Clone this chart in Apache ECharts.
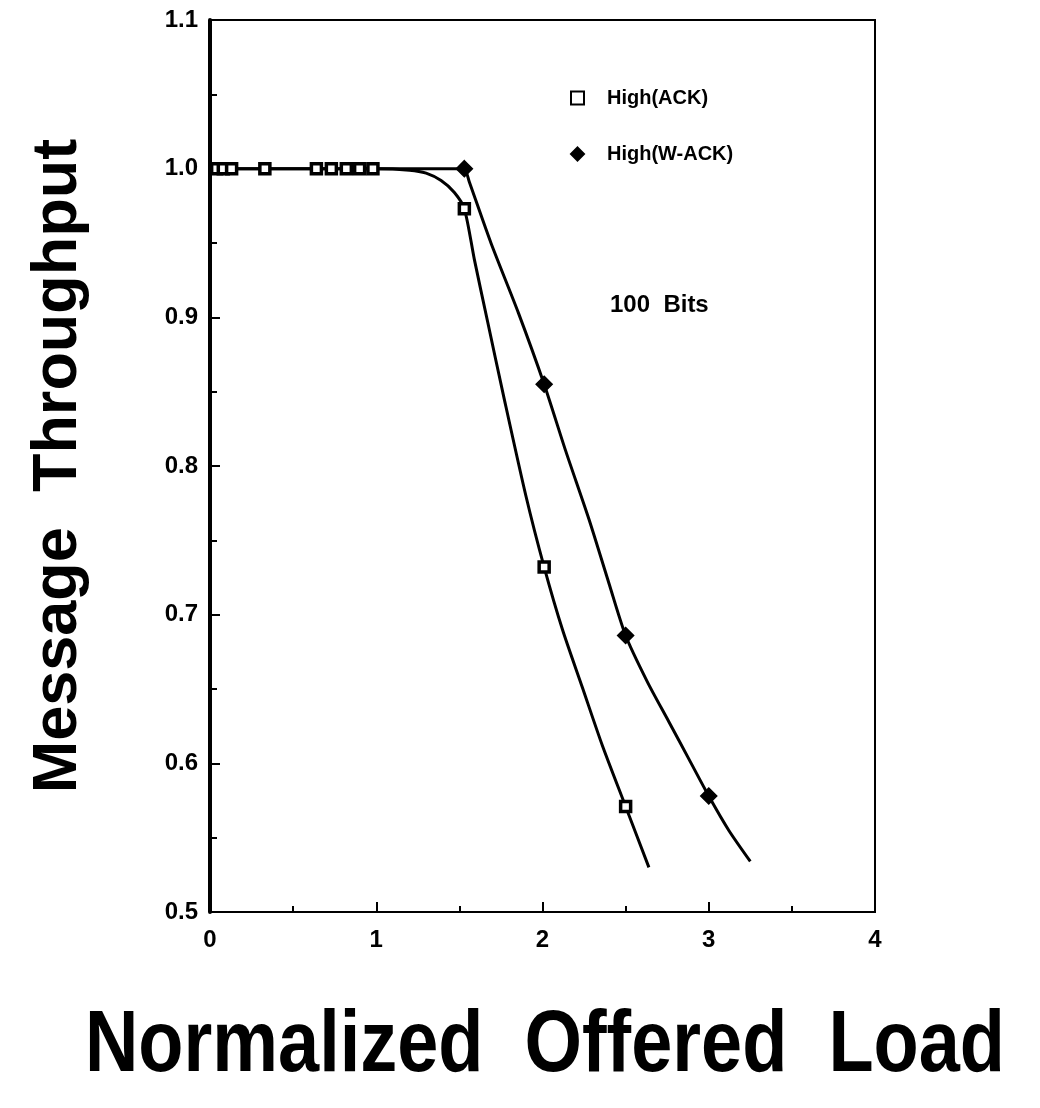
<!DOCTYPE html>
<html>
<head>
<meta charset="utf-8">
<script src="https://cdn.jsdelivr.net/npm/echarts@6/dist/echarts.min.js"></script>
<style>html,body{margin:0;padding:0;background:#fff}#chart{width:1040px;height:1108px}</style>
</head>
<body>
<div id="chart"></div>
<script>
// ---- data ----
const xTicks = [0, 1, 2, 3, 4];
const yTicks = [0.5, 0.6, 0.7, 0.8, 0.9, 1.0, 1.1];

// High(ACK) measured points (hollow squares)
const ackX = [0.04, 0.08, 0.13, 0.33, 0.64, 0.73, 0.82, 0.90, 0.98, 1.53, 2.01, 2.50];
const ackY = [1.0, 1.0, 1.0, 1.0, 1.0, 1.0, 1.0, 1.0, 1.0, 0.973, 0.732, 0.571];
// High(ACK) fitted curve, traced
const ackCurveX = [0.02, 0.5, 1.0, 1.2, 1.3, 1.39, 1.47, 1.53, 1.59, 1.67, 1.77, 1.90, 2.01, 2.12, 2.24, 2.36, 2.50, 2.64];
const ackCurveY = [1.0, 1.0, 1.0, 0.999, 0.997, 0.992, 0.984, 0.973, 0.939, 0.897, 0.845, 0.780, 0.732, 0.690, 0.651, 0.612, 0.571, 0.530];

// High(W-ACK) measured points (filled diamonds)
const wackX = [1.53, 2.01, 2.50, 3.00];
const wackY = [1.0, 0.855, 0.686, 0.578];
// High(W-ACK) fitted curve, traced
const wackCurveX = [0.02, 0.5, 1.0, 1.3, 1.50, 1.53, 1.56, 1.69, 1.855, 2.01, 2.14, 2.28, 2.40, 2.50, 2.63, 2.76, 2.88, 3.00, 3.12, 3.25];
const wackCurveY = [1.0, 1.0, 1.0, 1.0, 1.0, 1.0, 0.991, 0.950, 0.903, 0.855, 0.810, 0.764, 0.721, 0.686, 0.655, 0.628, 0.603, 0.578, 0.555, 0.534];

const seriesNames = ['High(ACK)', 'High(W-ACK)'];
const xTitle = 'Normalized  Offered  Load';
const yTitle = 'Message  Throughput';
const note = '100  Bits';

const zip = (xs, ys) => xs.map((x, i) => [x, ys[i]]);

const chart = echarts.init(document.getElementById('chart'), null, {renderer: 'canvas'});
const tickFont = {fontFamily: 'Liberation Sans, Arial, sans-serif', fontWeight: 'bold', fontSize: 24, color: '#000'};

chart.setOption({
  animation: false,
  backgroundColor: '#fff',
  grid: {left: 210, right: 165, top: 20, bottom: 196, show: true, borderColor: '#000', borderWidth: 2,
         backgroundColor: 'transparent', containLabel: false, outerBoundsMode: 'none'},
  legend: {
    data: seriesNames,
    orient: 'vertical',
    left: 565, top: 83,
    itemWidth: 13, itemHeight: 13, itemGap: 36,
    textStyle: {fontFamily: 'Liberation Sans, Arial, sans-serif', fontWeight: 'bold', fontSize: 20, color: '#000', padding: [0, 0, 0, 18]}
  },
  xAxis: {
    type: 'value', min: xTicks[0], max: xTicks[xTicks.length - 1], interval: 1,
    axisLine: {show: true, onZero: false, lineStyle: {color: '#000', width: 2}},
    axisTick: {show: true, inside: true, length: 10, lineStyle: {color: '#000', width: 2}},
    minorTick: {show: true, splitNumber: 2, length: 6, lineStyle: {color: '#000', width: 2}},
    axisLabel: Object.assign({margin: 16, formatter: v => String(v)}, tickFont),
    splitLine: {show: false}
  },
  yAxis: {
    type: 'value', min: yTicks[0], max: yTicks[yTicks.length - 1], interval: 0.1,
    name: yTitle, nameLocation: 'middle', nameGap: 120,
    nameTextStyle: {fontFamily: 'Liberation Sans, Arial, sans-serif', fontWeight: 'bold', fontSize: 63, color: '#000'},
    axisLine: {show: true, onZero: false, lineStyle: {color: '#000', width: 4}},
    axisTick: {show: true, inside: true, length: 10, lineStyle: {color: '#000', width: 2}},
    minorTick: {show: true, splitNumber: 2, length: 7, lineStyle: {color: '#000', width: 2}},
    axisLabel: Object.assign({margin: 12, formatter: v => v.toFixed(1)}, tickFont),
    splitLine: {show: false}
  },
  graphic: [
    {type: 'text', left: 610, top: 293, z: 10,
     style: {text: note, fill: '#000', font: 'bold 24px "Liberation Sans", Arial, sans-serif'}},
    {type: 'text', x: 545, y: 1047, scaleX: 0.84, z: 10,
     style: {x: 0, y: 0, text: xTitle, fill: '#000', align: 'center', verticalAlign: 'middle',
             font: 'bold 88px "Liberation Sans", Arial, sans-serif'}}
  ],
  series: [
    {name: 'ackCurve', type: 'line', data: zip(ackCurveX, ackCurveY), smooth: 0.25, showSymbol: false, symbol: 'none',
     lineStyle: {color: '#000', width: 3}, z: 2, silent: true},
    {name: 'wackCurve', type: 'line', data: zip(wackCurveX, wackCurveY), smooth: 0.25, showSymbol: false, symbol: 'none',
     lineStyle: {color: '#000', width: 3}, z: 2, silent: true},
    {name: seriesNames[0], type: 'scatter', data: zip(ackX, ackY), symbol: 'rect', symbolSize: 10,
     itemStyle: {color: '#fff', borderColor: '#000', borderWidth: 3.5, opacity: 1}, z: 5},
    {name: seriesNames[1], type: 'scatter', data: zip(wackX, wackY), symbol: 'diamond', symbolSize: [16, 16],
     itemStyle: {color: '#000', borderColor: '#000', borderWidth: 1.5, opacity: 1}, z: 5}
  ]
});
</script>
</body>
</html>
